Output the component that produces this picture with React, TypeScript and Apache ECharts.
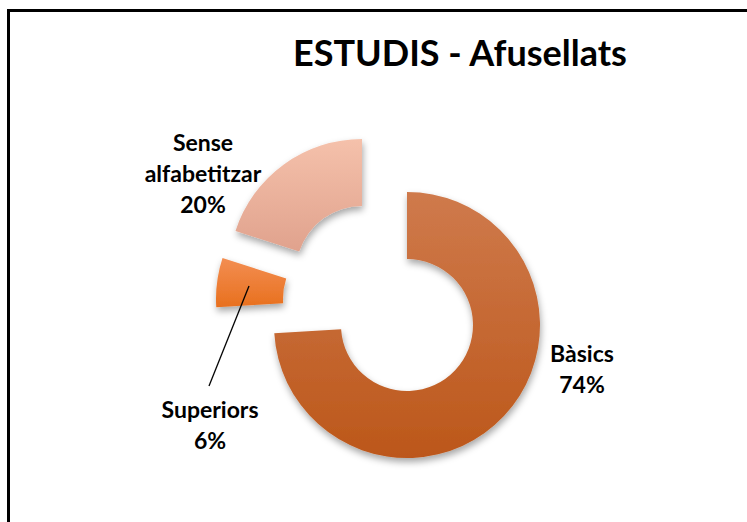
import React, { useEffect, useRef } from "react";
import * as echarts from "echarts";

const titleText = "ESTUDIS - Afusellats";
const categories = ["Bàsics", "Superiors", "Sense alfabetitzar"];
const values = [74, 6, 20];

// layout (not data)
const sliceCenters: [number, number][] = [
  [407, 325],
  [349, 299],
  [362, 272],
];
const labelCenters: [number, number][] = [
  [582, 368],
  [210, 424],
  [203, 173],
];
const sliceColors: [string, string][] = [
  ["#CF7A4C", "#BC571A"],
  ["#F38E52", "#E8701E"],
  ["#F5C1AB", "#E0A28D"],
];

const FONT = "Lato, 'Open Sans', sans-serif";

export default function App() {
  const ref = useRef<HTMLDivElement>(null);
  useEffect(() => {
    if (!ref.current) return;
    const chart = echarts.init(ref.current, undefined, { renderer: "svg" });
    const series = categories.map((_, i) => ({
      type: "pie",
      center: sliceCenters[i],
      radius: [66, 133],
      startAngle: 90,
      clockwise: true,
      silent: true,
      avoidLabelOverlap: false,
      z: 2,
      label: {
        show: true,
        formatter: (p: any) => `${String(p.name).replace(" ", "\n")}\n${Math.round(p.percent)}%`,
        fontSize: 23,
        fontWeight: "bold",
        lineHeight: 31,
        color: "#000",
        fontFamily: FONT,
        align: "center",
      },
      labelLine: { show: false },
      labelLayout: (p: any) =>
        p.dataIndex === i
          ? { x: labelCenters[i][0], y: labelCenters[i][1], align: "center", verticalAlign: "middle" }
          : {},
      data: categories.map((name, j) => ({
        name,
        value: values[j],
        itemStyle:
          j === i
            ? {
                color: new echarts.graphic.LinearGradient(0, 0, 0, 1, [
                  { offset: 0, color: sliceColors[i][0] },
                  { offset: 1, color: sliceColors[i][1] },
                ]),
                shadowBlur: 7,
                shadowOffsetY: 4,
                shadowOffsetX: 1,
                shadowColor: "rgba(0,0,0,0.35)",
              }
            : { color: "rgba(0,0,0,0)" },
        label: { show: j === i },
      })),
    }));
    chart.setOption({
      animation: false,
      backgroundColor: "#ffffff",
      title: {
        text: titleText,
        left: 288,
        top: 29,
        textStyle: { fontSize: 36, fontWeight: "bold", color: "#000", fontFamily: FONT },
      },
      graphic: [
        { type: "line", z: 100, shape: { x1: 8.5, y1: 9, x2: 8.5, y2: 522 }, style: { stroke: "#000", lineWidth: 3 } },
        { type: "line", z: 100, shape: { x1: 7, y1: 10.5, x2: 747, y2: 10.5 }, style: { stroke: "#000", lineWidth: 3 } },
        { type: "line", z: 100, shape: { x1: 209, y1: 386, x2: 249, y2: 286 }, style: { stroke: "#000", lineWidth: 1.3 } },
      ],
      series,
    });
    return () => chart.dispose();
  }, []);
  return (
    <div
      ref={ref}
      style={{ position: "fixed", left: 0, top: 0, width: 747, height: 522, background: "#fff" }}
    />
  );
}
